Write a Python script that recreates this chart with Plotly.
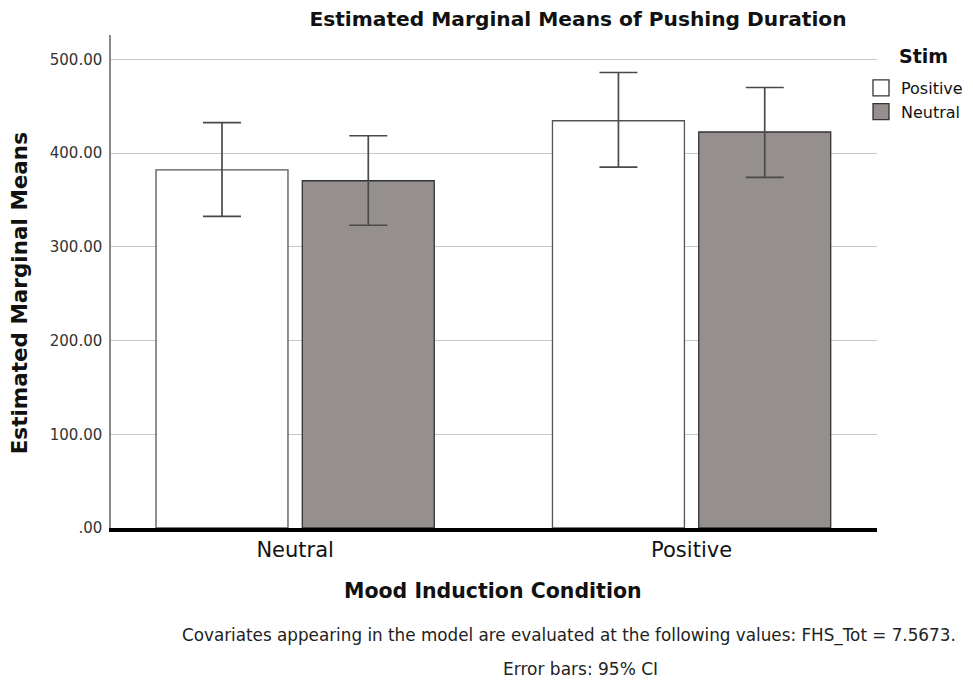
import plotly.graph_objects as go

categories = ["Neutral", "Positive"]
stim_positive = [382.0, 434.5]
stim_positive_lo = [332.5, 385.0]
stim_positive_hi = [432.5, 486.0]
stim_neutral = [370.5, 422.5]
stim_neutral_lo = [323.0, 374.0]
stim_neutral_hi = [418.5, 470.0]
ytick_vals = [0, 100, 200, 300, 400, 500]
ytick_text = [".00", "100.00", "200.00", "300.00", "400.00", "500.00"]

FONT = "DejaVu Sans"
WHITE_FILL, GRAY_FILL = "white", "#958f8e"

def err(vals, lo, hi):
    return dict(type="data", symmetric=False,
                array=[h - v for h, v in zip(hi, vals)],
                arrayminus=[v - l for v, l in zip(vals, lo)],
                color="#4a4a4a", thickness=1.7, width=19)

fig = go.Figure()
fig.add_trace(go.Bar(x=categories, y=stim_positive, name="Positive", legendgroup="p",
                     showlegend=False,
                     marker=dict(color=WHITE_FILL, line=dict(color="#555555", width=1.3)),
                     error_y=err(stim_positive, stim_positive_lo, stim_positive_hi)))
fig.add_trace(go.Bar(x=categories, y=stim_neutral, name="Neutral", legendgroup="n",
                     showlegend=False,
                     marker=dict(color=GRAY_FILL, line=dict(color="#333333", width=1.3)),
                     error_y=err(stim_neutral, stim_neutral_lo, stim_neutral_hi)))
# legend entries with larger square swatches
fig.add_trace(go.Scatter(x=[None], y=[None], mode="markers", name="Positive", legendgroup="p",
                         marker=dict(symbol="square", size=16, color=WHITE_FILL,
                                     line=dict(color="#333333", width=1.3))))
fig.add_trace(go.Scatter(x=[None], y=[None], mode="markers", name="Neutral", legendgroup="n",
                         marker=dict(symbol="square", size=16, color=GRAY_FILL,
                                     line=dict(color="#333333", width=1.3))))

L, T, PW, PH = 102.7, 27, 766.3, 493
W, H = 965, 675

def px(xf):
    return (xf - L) / PW

def py(yf):
    return 1 - (yf - T) / PH

fig.update_layout(
    width=W, height=H,
    margin=dict(l=L, r=W - L - PW, t=T, b=H - T - PH, autoexpand=False),
    paper_bgcolor="white", plot_bgcolor="white",
    barmode="group", bargap=0.262, bargroupgap=0.098,
    font=dict(family=FONT, color="#222222"),
    title=dict(text="<b>Estimated Marginal Means of Pushing Duration</b>",
               x=570 / W, xanchor="center", y=1 - 11 / H, yanchor="middle",
               font=dict(size=20.2, color="#111111")),
    xaxis=dict(type="category", range=[-0.4645, 1.4677], showline=True,
               linecolor="black", linewidth=3.5, ticks="", showgrid=False,
               tickfont=dict(size=21, color="#111111")),
    yaxis=dict(range=[0, 526], showline=True, linecolor="#8a8a8a", linewidth=1.5,
               showgrid=True, gridcolor="#c8c8c8", gridwidth=1,
               tickvals=ytick_vals, ticktext=ytick_text, ticks="",
               ticklabelstandoff=4,
               tickfont=dict(size=15, color="#333333"), zeroline=False),
    legend=dict(x=px(853), xanchor="left", y=py(63), yanchor="top",
                font=dict(size=16, color="#111111"), itemwidth=30,
                bgcolor="rgba(0,0,0,0)", tracegroupgap=0),
    annotations=[
        dict(text="<b>Stim</b>", xref="paper", yref="paper", x=px(916), y=py(48),
             xanchor="center", yanchor="middle", showarrow=False,
             font=dict(size=19, color="#111111")),
        dict(text="<b>Estimated Marginal Means</b>", xref="paper", yref="paper",
             x=px(11), y=py(285), textangle=-90, xanchor="center", yanchor="middle",
             showarrow=False, font=dict(size=21.5, color="#111111")),
        dict(text="<b>Mood Induction Condition</b>", xref="paper", yref="paper",
             x=px(484.5), y=py(583), xanchor="center", yanchor="middle",
             showarrow=False, font=dict(size=20.5, color="#111111")),
        dict(text="Covariates appearing in the model are evaluated at the following values: FHS_Tot = 7.5673.",
             xref="paper", yref="paper", x=px(172), y=py(627),
             xanchor="left", yanchor="middle", showarrow=False,
             font=dict(size=16.8, color="#222222")),
        dict(text="Error bars: 95% CI", xref="paper", yref="paper",
             x=px(572), y=py(661), xanchor="center", yanchor="middle",
             showarrow=False, font=dict(size=17, color="#222222")),
    ],
)

fig.write_html("out.html")
